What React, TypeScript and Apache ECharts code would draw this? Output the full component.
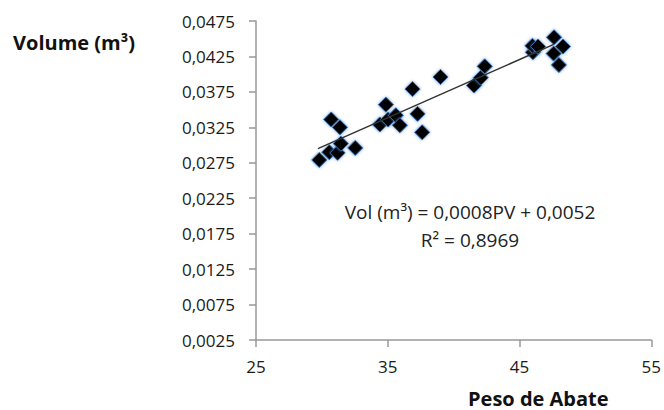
import React, { useEffect, useRef } from "react";
import * as echarts from "echarts";

const pesoAbate = [29.8, 30.56, 31.19, 31.44, 30.71, 31.37, 32.53, 34.4, 34.86, 35.03, 35.61, 35.92, 36.88, 37.26, 37.61, 39.0, 41.55, 42.06, 42.36, 46.02, 45.98, 46.4, 47.62, 48.3, 47.59, 47.99];
const volume = [0.0279, 0.029, 0.0289, 0.0302, 0.0336, 0.0325, 0.0296, 0.0329, 0.0357, 0.0336, 0.0342, 0.0328, 0.0379, 0.0344, 0.0318, 0.0396, 0.0384, 0.0395, 0.0411, 0.0431, 0.044, 0.0439, 0.0452, 0.0439, 0.0429, 0.0413];
const trendX = [29.7, 47.6];
const trendY = [0.0295, 0.0442];
const xTicks = [25, 35, 45, 55];
const yMin = 0.0025;
const yMax = 0.0475;
const yStep = 0.005;
const equationText = "Vol (m³) = 0,0008PV + 0,0052";
const r2Text = "R² = 0,8969";

export default function App() {
  const ref = useRef<HTMLDivElement>(null);
  useEffect(() => {
    if (!ref.current) return;
    const chart = echarts.init(ref.current, null, { renderer: "svg" });
    const font = "'Open Sans', 'Noto Sans', sans-serif";
    chart.setOption({
      animation: false,
      backgroundColor: "#fff",
      grid: { left: 256, right: 12, top: 21, bottom: 70, containLabel: false },
      xAxis: {
        type: "value",
        min: xTicks[0],
        max: xTicks[xTicks.length - 1],
        interval: 10,
        axisLine: { show: true, lineStyle: { color: "#999", width: 1.5 } },
        axisTick: { show: true, length: 7, lineStyle: { color: "#999", width: 1.5 } },
        splitLine: { show: false },
        axisLabel: { color: "#1a1a1a", fontFamily: font, fontSize: 17, margin: 18 },
      },
      yAxis: {
        type: "value",
        min: yMin,
        max: yMax,
        interval: yStep,
        axisLine: { show: true, lineStyle: { color: "#999", width: 1.5 } },
        axisTick: { show: true, length: 7, lineStyle: { color: "#999", width: 1.5 } },
        splitLine: { show: false },
        axisLabel: {
          color: "#1a1a1a",
          fontFamily: font,
          fontSize: 17,
          margin: 21,
          formatter: (v: number) => v.toFixed(4).replace(".", ","),
        },
      },
      series: [
        {
          type: "line",
          data: trendX.map((x, i) => [x, trendY[i]]),
          symbol: "none",
          lineStyle: { color: "#333", width: 1.5 },
          z: 3,
        },
        {
          type: "scatter",
          data: pesoAbate.map((x, i) => [x, volume[i]]),
          symbol: "diamond",
          symbolSize: 15,
          itemStyle: {
            color: "#000",
            opacity: 1,
            borderColor: "#2f6aac",
            borderWidth: 1,
            shadowBlur: 3,
            shadowColor: "rgba(70,130,200,0.8)",
          },
          z: 2,
        },
      ],
      graphic: [
        {
          type: "text",
          left: 13,
          top: 32,
          style: { text: "Volume (m³)", font: `bold 20px ${font}`, fill: "#111" },
        },
        {
          type: "text",
          left: 468,
          top: 388,
          style: { text: "Peso de Abate", font: `bold 20px ${font}`, fill: "#111" },
        },
        {
          type: "text",
          x: 470,
          y: 212,
          style: { text: equationText, font: `19px ${font}`, fill: "#222", align: "center", verticalAlign: "middle" },
        },
        {
          type: "text",
          x: 470,
          y: 240,
          style: { text: r2Text, font: `19px ${font}`, fill: "#222", align: "center", verticalAlign: "middle" },
        },
      ],
    });
    return () => chart.dispose();
  }, []);
  return <div ref={ref} style={{ width: 664, height: 410, position: "absolute", left: 0, top: 0 }} />;
}
